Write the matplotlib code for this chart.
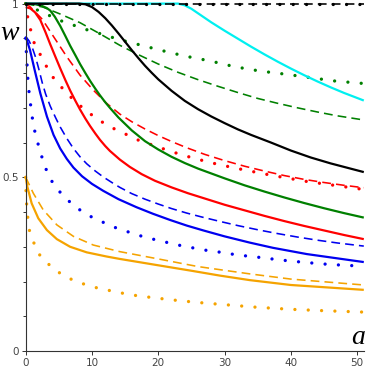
import matplotlib
matplotlib.use("Agg")
import matplotlib.pyplot as plt

# ---------------- data ----------------
black_solid_a = [0, 8, 9, 10, 11, 12, 13, 14, 15, 16, 17, 18, 19, 20, 22, 24, 26, 28, 30, 32, 34, 37, 40, 43, 46, 51]
black_solid_w = [1, 1, 0.998, 0.99, 0.976, 0.958, 0.937, 0.914, 0.89, 0.866, 0.843, 0.821, 0.801, 0.782, 0.749, 0.72,
                 0.696, 0.675, 0.656, 0.638, 0.622, 0.6, 0.577, 0.557, 0.54, 0.515]

cyan_solid_a = [0, 23, 24, 25, 26, 27, 28, 30, 32, 34, 36, 38, 40, 42, 44, 46, 48, 51]
cyan_solid_w = [1, 1, 0.995, 0.985, 0.972, 0.959, 0.946, 0.922, 0.899, 0.876, 0.854, 0.833, 0.813, 0.794, 0.776,
                0.759, 0.743, 0.721]

flat_a = [0, 51]
flat_w = [1, 1]

green_solid_a = [0, 1.5, 2.5, 3.2, 3.7, 4.4, 5.2, 6, 6.7, 7.5, 8.2, 9, 9.7, 10.5, 11.2, 12, 12.7, 14, 16, 18, 20, 22,
                 24, 26, 28, 30, 33, 36, 39, 42, 45, 48, 51]
green_solid_w = [1, 0.998, 0.993, 0.987, 0.98, 0.962, 0.936, 0.906, 0.879, 0.851, 0.826, 0.8, 0.778, 0.755, 0.736,
                 0.716, 0.7, 0.672, 0.635, 0.604, 0.58, 0.559, 0.541, 0.525, 0.511, 0.497, 0.477, 0.459, 0.442, 0.426,
                 0.411, 0.397, 0.384]
green_dash_a = [0, 2.6, 5.2, 8.2, 11.2, 14.2, 17, 20, 23, 26, 29, 32, 35, 38, 41, 44, 47, 51]
green_dash_w = [1, 0.99, 0.97, 0.945, 0.913, 0.88, 0.853, 0.826, 0.802, 0.781, 0.762, 0.744, 0.727, 0.713, 0.7,
                0.688, 0.677, 0.665]
green_dot_a = [0, 1.9, 5.4, 9, 11.5, 14.2, 20.3, 24, 27.8, 31.6, 35.3, 39.1, 42.9, 46.7, 51]
green_dot_w = [1, 0.98, 0.95, 0.926, 0.912, 0.896, 0.866, 0.849, 0.835, 0.818, 0.806, 0.797, 0.787, 0.777, 0.770]

red_solid_a = [0, 0.7, 1.4, 2.2, 3, 3.7, 4.5, 5.2, 6, 6.7, 7.5, 8.2, 9, 9.7, 10.5, 11.2, 12, 12.7, 14.2, 15.7, 17.5,
               19.5, 22, 24.5, 27, 30, 33, 36, 39, 42, 45, 48, 51]
red_solid_w = [0.99, 0.986, 0.975, 0.953, 0.917, 0.883, 0.846, 0.814, 0.779, 0.75, 0.72, 0.695, 0.669, 0.648, 0.626,
               0.608, 0.59, 0.576, 0.551, 0.53, 0.509, 0.49, 0.471, 0.454, 0.439, 0.421, 0.405, 0.389, 0.374, 0.36,
               0.347, 0.334, 0.322]
red_dash_a = [0, 0.65, 2.5, 4.2, 6.2, 8.2, 10.2, 12.2, 14.2, 16, 18, 20, 22, 24.3, 27, 30, 33, 36, 39, 42, 45, 48, 51]
red_dash_w = [1, 0.991, 0.955, 0.905, 0.847, 0.794, 0.751, 0.713, 0.682, 0.66, 0.639, 0.62, 0.603, 0.585, 0.566,
              0.548, 0.532, 0.518, 0.505, 0.494, 0.485, 0.477, 0.47]
red_dot_a = [0, 0.4, 0.9, 1.4, 2.4, 3.4, 4.4, 5.7, 7, 8.4, 10, 11.7, 13.2, 15, 16.7, 18.5, 20.3, 22, 24, 25.8, 27.7,
             29.6, 31.5, 33.3, 37.3, 42.4, 51]
red_dot_w = [1, 0.948, 0.914, 0.878, 0.847, 0.809, 0.78, 0.753, 0.727, 0.703, 0.679, 0.657, 0.641, 0.625, 0.609,
             0.597, 0.585, 0.574, 0.562, 0.553, 0.543, 0.535, 0.527, 0.52, 0.505, 0.488, 0.465]

blue_solid_a = [0, 0.65, 1.4, 2.2, 3.2, 4.2, 5.2, 6.2, 7.2, 8.5, 10, 11.7, 14, 16.7, 19.2, 21.8, 24.3, 26.8, 30, 33.8,
                37.3, 42.4, 51]
blue_solid_w = [0.905, 0.866, 0.805, 0.742, 0.675, 0.622, 0.583, 0.553, 0.528, 0.503, 0.481, 0.461, 0.437, 0.414,
                0.395, 0.377, 0.361, 0.347, 0.33, 0.312, 0.297, 0.279, 0.256]
blue_dash_a = [0, 0.5, 1, 1.5, 2, 2.5, 3, 3.7, 4.5, 5.2, 6.2, 7.2, 8.2, 9.2, 10.5, 11.7, 13, 14.2, 16, 18, 20, 22,
               24.3, 26.5, 29.3, 32, 35, 38, 41, 44, 47, 51]
blue_dash_w = [0.905, 0.893, 0.873, 0.845, 0.81, 0.772, 0.74, 0.705, 0.672, 0.645, 0.612, 0.583, 0.559, 0.539, 0.518,
               0.501, 0.485, 0.471, 0.453, 0.437, 0.423, 0.41, 0.397, 0.386, 0.373, 0.361, 0.349, 0.338, 0.328,
               0.319, 0.311, 0.302]
blue_dot_a = [0, 0.1, 0.2, 0.3, 0.45, 0.65, 0.9, 1.2, 1.7, 2.2, 2.7, 3.4, 4.3, 5.6, 7, 8.6, 10.3, 12.1, 13.8, 15.6,
              17.4, 19.2, 21.2, 23, 24.9, 26.8, 28.8, 30.7, 32.6, 34.6, 38.4, 42.1, 45.9, 51]
blue_dot_w = [0.9, 0.86, 0.825, 0.79, 0.755, 0.722, 0.684, 0.646, 0.607, 0.574, 0.542, 0.507, 0.477, 0.448, 0.423,
              0.4, 0.382, 0.367, 0.353, 0.342, 0.331, 0.322, 0.313, 0.305, 0.298, 0.291, 0.286, 0.28, 0.275, 0.271,
              0.262, 0.255, 0.249, 0.244]

orange_solid_a = [0, 0.25, 0.9, 1.9, 3.2, 4.7, 6.7, 9.2, 12.2, 14.2, 19.9, 25, 29.3, 33.8, 40, 51]
orange_solid_w = [0.5, 0.473, 0.425, 0.382, 0.348, 0.322, 0.300, 0.284, 0.272, 0.265, 0.247, 0.231, 0.217, 0.204,
                  0.19, 0.176]
orange_dash_a = [0, 1.15, 2.65, 4.7, 7.2, 10.2, 14.2, 20, 26, 33.8, 40, 51]
orange_dash_w = [0.5, 0.454, 0.406, 0.363, 0.33, 0.305, 0.286, 0.265, 0.243, 0.222, 0.207, 0.19]
orange_dot_a = [0, 0.05, 0.15, 0.3, 0.55, 1.15, 1.9, 3.2, 4.6, 6.3, 8.1, 10, 11.9, 13.7, 15.7, 19.4, 23.1, 27, 30.9,
                34.8, 40, 45, 51]
orange_dot_w = [0.5, 0.456, 0.42, 0.387, 0.348, 0.315, 0.281, 0.254, 0.231, 0.211, 0.197, 0.185, 0.177, 0.17, 0.162,
                0.153, 0.145, 0.138, 0.132, 0.126, 0.12, 0.116, 0.112]

x_ticks = [0, 10, 20, 30, 40, 50]
y_major = [0, 0.5, 1]
y_major_labels = ["0", "0.5", "1"]
y_minor = [0.1, 0.2, 0.3, 0.4, 0.6, 0.7, 0.8, 0.9]

# ---------------- styles ----------------
ORANGE = "#F5A300"
BLUE = "#0000F0"
RED = "#FF0000"
GREEN = "#008000"
CYAN = "#00F0F0"
BLACK = "#000000"

solid = dict(lw=1.6, ls="-", solid_capstyle="butt", solid_joinstyle="round")
dashed = dict(lw=1.15, ls=(0, (5.5, 3.2)))
dotted = dict(lw=2.4, ls=(0, (0.001, 4.0)), dash_capstyle="round")

fig = plt.figure(figsize=(3.67, 3.72), dpi=100)
ax = fig.add_axes([25.7 / 367, 21 / 372, (363.8 - 25.7) / 367, 347.4 / 372])
ax.set_xlim(0, 51)
ax.set_ylim(0, 1)


def draw(a, w, color, style, z):
    ax.plot(a, w, color=color, clip_on=False, zorder=z, **style)


draw(orange_dot_a, orange_dot_w, ORANGE, dotted, 2)
draw(orange_dash_a, orange_dash_w, ORANGE, dashed, 2)
draw(orange_solid_a, orange_solid_w, ORANGE, solid, 2)
draw(blue_dot_a, blue_dot_w, BLUE, dotted, 2)
draw(blue_dash_a, blue_dash_w, BLUE, dashed, 2)
draw(blue_solid_a, blue_solid_w, BLUE, solid, 2)
draw(red_dot_a, red_dot_w, RED, dotted, 2)
draw(red_dash_a, red_dash_w, RED, dashed, 2)
draw(red_solid_a, red_solid_w, RED, solid, 2)
draw(green_dot_a, green_dot_w, GREEN, dotted, 2)
draw(green_dash_a, green_dash_w, GREEN, dashed, 2)
draw(green_solid_a, green_solid_w, GREEN, solid, 2)
draw(cyan_solid_a, cyan_solid_w, CYAN, solid, 3)
draw(black_solid_a, black_solid_w, BLACK, solid, 4)
draw(flat_a, flat_w, BLACK, dashed, 5)
draw(flat_a, flat_w, BLACK, dotted, 5)

for s in ["top", "right"]:
    ax.spines[s].set_visible(False)
for s in ["left", "bottom"]:
    ax.spines[s].set_color("#333333")
    ax.spines[s].set_linewidth(0.8)
ax.spines["bottom"].set_bounds(0, 51)

ax.set_xticks(x_ticks)
ax.set_xticklabels([str(t) for t in x_ticks])
ax.set_yticks(y_major)
ax.set_yticklabels(y_major_labels)
ax.set_yticks(y_minor, minor=True)
ax.tick_params(axis="both", which="major", direction="out", length=3, width=0.7,
               colors="#333333", labelsize=7.5, labelcolor="#444444", pad=2)
ax.tick_params(axis="y", which="minor", direction="out", length=2.5, width=0.7, colors="#333333")

ax.text(-2.4, 0.915, "w", fontsize=20, style="italic", family="Liberation Serif",
        ha="center", va="center")
ax.text(50.2, 0.04, "a", fontsize=20, style="italic", family="Liberation Serif",
        ha="center", va="center")

fig.savefig("out.png", dpi=100)
